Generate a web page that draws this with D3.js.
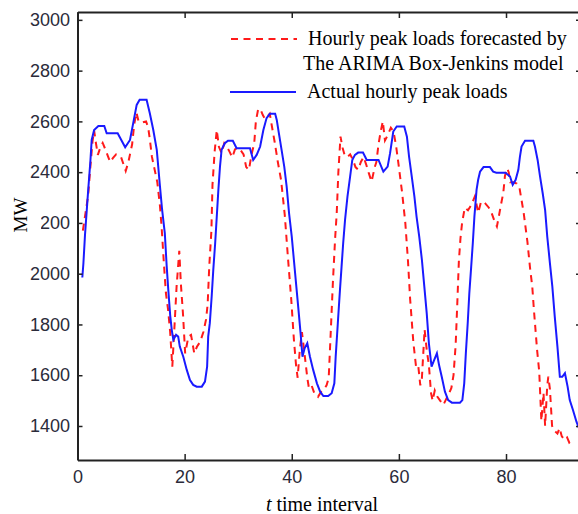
<!DOCTYPE html>
<html>
<head>
<meta charset="utf-8">
<script src="https://cdn.jsdelivr.net/npm/d3@7"></script>
<style>
  html, body { margin: 0; padding: 0; background: #fff; }
  svg { display: block; }
</style>
</head>
<body>
<svg id="chart" width="578" height="514"></svg>
<script>
// ---------- data ----------
const xTicks = [0, 20, 40, 60, 80];
const yTicks = [1400, 1600, 1800, 2000, 2200, 2400, 2600, 2800, 3000];

const legendLabels = [
  "Hourly peak loads forecasted by",
  "The ARIMA Box-Jenkins model",
  "Actual hourly peak loads"
];

// Actual hourly peak loads (blue)
const tActual = [0.9,1.1,1.4,2.0,2.4,2.65,3.1,3.9,5.0,5.45,7.5,8.9,9.8,10.4,11.05,11.6,12.9,13.5,14.15,14.8,15.4,15.8,16.3,16.65,16.95,17.3,17.6,17.9,18.4,18.8,19.1,19.75,20.4,21.0,21.6,22.25,23.2,23.8,24.2,24.4,24.7,25.05,25.35,25.7,26.0,26.3,26.6,26.9,27.5,28.1,29.0,29.7,32.2,32.8,33.45,34.1,34.7,35.3,35.9,36.9,37.2,37.6,38.1,38.6,39.05,39.5,40.0,40.4,40.8,41.2,41.65,42.0,42.4,42.9,43.4,44.0,44.7,45.3,45.9,46.8,47.45,47.95,48.2,48.6,49.0,49.3,49.6,49.95,50.4,50.9,51.3,51.8,52.4,53.3,54.0,56.2,57.1,57.9,58.35,58.95,59.6,61.0,61.5,61.9,62.4,62.9,63.3,63.8,64.3,64.75,65.2,65.6,66.1,66.6,67.1,67.5,68.0,68.6,69.2,69.9,71.4,71.85,72.2,72.5,72.85,73.15,73.5,73.8,74.1,74.5,74.8,75.15,75.8,77.0,77.6,78.2,79.9,80.75,81.25,81.8,82.3,82.6,82.9,83.55,85.1,85.4,85.9,86.35,86.85,87.3,87.7,88.2,88.65,89.1,89.6,90.05,90.5,91.0,91.5,91.9,92.5,93.15,93.6];
const actual = [1985,2040,2153,2330,2442,2527,2566,2582,2582,2553,2553,2498,2527,2593,2665,2685,2685,2632,2566,2488,2343,2251,2160,2030,1936,1837,1778,1739,1759,1752,1713,1673,1621,1581,1562,1555,1555,1575,1634,1752,1805,1910,2015,2120,2225,2330,2422,2488,2514,2524,2524,2494,2494,2448,2468,2501,2566,2613,2630,2630,2606,2553,2488,2422,2343,2238,2146,2054,1962,1870,1765,1673,1706,1726,1673,1621,1568,1535,1518,1518,1529,1568,1673,1805,1936,2028,2120,2212,2304,2383,2448,2468,2477,2477,2448,2448,2402,2422,2474,2560,2580,2580,2540,2461,2383,2304,2225,2146,2054,1949,1844,1726,1634,1660,1686,1640,1594,1535,1502,1492,1492,1502,1568,1686,1805,1923,2028,2120,2225,2330,2370,2402,2420,2420,2402,2398,2398,2383,2350,2370,2409,2461,2501,2524,2524,2501,2448,2383,2317,2251,2146,2041,1949,1831,1713,1594,1594,1608,1555,1502,1463,1417,1392];

// Forecast by ARIMA Box-Jenkins model (red dashed)
const tForecast = [1.0,1.5,2.0,2.4,2.8,3.1,3.4,3.8,4.3,4.7,5.2,5.8,6.1,6.6,7.2,7.7,8.1,8.6,9.0,9.5,9.8,10.2,10.6,11.0,11.4,12.0,12.8,13.2,13.5,13.9,14.3,14.9,15.4,15.7,16.1,16.5,16.9,17.3,17.7,18.0,18.5,19.0,19.3,19.7,20.1,20.7,21.2,21.8,22.3,22.9,23.5,24.0,24.3,24.6,25.0,25.2,25.6,26.0,26.4,26.9,27.4,27.9,28.4,28.9,29.4,30.0,30.5,31.0,31.5,32.0,32.5,33.0,33.3,33.7,34.1,34.6,35.0,35.5,35.9,36.3,36.8,37.4,38.0,38.7,39.3,39.9,40.4,40.8,41.1,41.5,41.9,42.3,42.9,43.2,43.7,44.2,44.9,45.5,46.0,46.5,46.9,47.3,47.7,48.1,48.4,48.7,49.1,49.5,49.9,50.4,50.9,51.4,51.9,52.4,52.9,53.4,53.9,54.4,54.9,55.5,55.8,56.2,56.6,57.0,57.4,57.9,58.5,59.0,59.5,60.0,60.6,61.2,61.7,62.1,62.7,63.2,63.6,64.0,64.3,64.8,65.2,65.6,66.0,66.3,66.7,67.2,67.7,68.3,68.8,69.3,69.8,70.2,70.6,70.9,71.2,71.5,71.8,72.3,72.9,73.5,74.2,74.8,75.3,75.7,76.2,76.8,77.3,77.8,78.3,78.7,79.0,79.5,79.8,80.2,80.5,80.8,81.4,82.0,82.5,82.9,83.3,83.6,84.0,84.5,84.9,85.2,85.8,86.2,86.6,87.0,87.3,87.7,87.9,88.2,88.6,89.1,89.6,90.0,90.4,90.9,91.4,91.8,92.3];
const forecast = [2170,2240,2310,2420,2520,2565,2520,2468,2500,2515,2490,2456,2440,2455,2470,2465,2461,2430,2405,2440,2470,2510,2590,2635,2600,2595,2600,2575,2530,2460,2420,2360,2266,2185,2050,1924,1860,1770,1634,1750,1950,2090,1960,1840,1686,1752,1759,1686,1712,1732,1770,1820,1880,2030,2170,2350,2480,2566,2500,2475,2514,2500,2480,2458,2490,2494,2485,2470,2420,2409,2470,2515,2600,2645,2650,2625,2610,2620,2630,2580,2520,2440,2370,2230,2060,1900,1740,1640,1590,1700,1770,1700,1590,1550,1560,1530,1515,1535,1545,1560,1590,1780,1975,2140,2240,2400,2540,2495,2465,2460,2470,2450,2420,2410,2440,2460,2430,2395,2363,2420,2440,2510,2560,2600,2525,2545,2575,2560,2500,2420,2320,2200,2050,1900,1730,1634,1640,1560,1590,1780,1700,1640,1530,1500,1540,1515,1500,1483,1505,1525,1550,1600,1720,1880,2050,2140,2200,2260,2250,2270,2305,2240,2280,2285,2275,2260,2240,2210,2186,2230,2265,2320,2385,2415,2400,2360,2360,2355,2340,2290,2240,2190,2125,2020,1950,1860,1700,1615,1420,1530,1400,1560,1594,1545,1400,1380,1370,1392,1360,1345,1355,1335,1345];

// ---------- layout ----------
const svg = d3.select("#chart");
const plotL = 77.5, plotR = 581, plotT = 12, plotB = 460;

const x = d3.scaleLinear().domain([0, 94]).range([plotL, plotR]);
const y = d3.scaleLinear().domain([1266, 3031]).range([plotB, plotT]);

const blue = "#1a1aff";
const red = "#ff1a1a";
const axisColor = "#222";
const tickFont = "'Liberation Sans', Arial, sans-serif";
const serif = "'Liberation Serif', 'Times New Roman', serif";
const dash = "7,5.5";

// clip
svg.append("defs").append("clipPath").attr("id", "plotClip")
  .append("rect").attr("x", plotL).attr("y", plotT)
  .attr("width", plotR - plotL).attr("height", plotB - plotT);

// ---------- lines ----------
const actualPts = tActual.map((t, i) => [t, actual[i]]);
const forecastPts = tForecast.map((t, i) => [t, forecast[i]]);
const line = d3.line().x(d => x(d[0])).y(d => y(d[1]));

const plot = svg.append("g").attr("clip-path", "url(#plotClip)");
plot.append("path").datum(forecastPts)
  .attr("d", line).attr("fill", "none")
  .attr("stroke", red).attr("stroke-width", 2)
  .attr("stroke-dasharray", dash);
plot.append("path").datum(actualPts)
  .attr("d", line).attr("fill", "none")
  .attr("stroke", blue).attr("stroke-width", 2);

// ---------- axes ----------
const fmt = d3.format("d");
function styleAxis(g, showText) {
  g.select(".domain").attr("stroke", axisColor).attr("stroke-width", 2);
  g.selectAll(".tick line").attr("stroke", axisColor).attr("stroke-width", 1.5);
  g.selectAll(".tick text")
    .attr("fill", "#2b2b3a")
    .style("font-family", tickFont)
    .style("font-size", "18px");
  if (!showText) g.selectAll(".tick text").remove();
}

svg.append("g").attr("transform", `translate(0,${plotB})`)
  .call(d3.axisBottom(x).tickValues(xTicks).tickFormat(fmt).tickSizeInner(-6).tickSizeOuter(0).tickPadding(10))
  .call(g => styleAxis(g, true));

svg.append("g").attr("transform", `translate(0,${plotT})`)
  .call(d3.axisTop(x).tickValues(xTicks).tickSizeInner(-6).tickSizeOuter(0))
  .call(g => styleAxis(g, false));

svg.append("g").attr("transform", `translate(${plotL},0)`)
  .call(d3.axisLeft(y).tickValues(yTicks).tickFormat(fmt).tickSizeInner(-5).tickSizeOuter(0).tickPadding(7.5))
  .call(g => styleAxis(g, true));

svg.append("g").attr("transform", `translate(${plotR},0)`)
  .call(d3.axisRight(y).tickValues(yTicks).tickSizeInner(-5).tickSizeOuter(0))
  .call(g => styleAxis(g, false));

// ---------- axis titles ----------
// the MW title sits on a white box that hides part of a tick label, as in the reference
svg.append("rect").attr("x", 0).attr("y", 192).attr("width", 41).attr("height", 44).attr("fill", "#fff");
svg.append("text")
  .attr("transform", "translate(27,215) rotate(-90)")
  .attr("text-anchor", "middle")
  .style("font-family", serif).style("font-size", "19px").attr("fill", "#000")
  .text("MW");

const xt = svg.append("text")
  .attr("x", 322).attr("y", 511).attr("text-anchor", "middle")
  .style("font-family", serif).style("font-size", "20px").attr("fill", "#000");
xt.append("tspan").style("font-style", "italic").text("t");
xt.append("tspan").text(" time interval");

// ---------- legend ----------
const lg = svg.append("g");
lg.append("line").attr("x1", 231).attr("x2", 297).attr("y1", 39).attr("y2", 39)
  .attr("stroke", red).attr("stroke-width", 2).attr("stroke-dasharray", dash);
lg.append("line").attr("x1", 230).attr("x2", 296).attr("y1", 92).attr("y2", 92)
  .attr("stroke", blue).attr("stroke-width", 2);
const legendPos = [[308, 45], [303, 70], [307, 98]];
legendLabels.forEach((s, i) => {
  lg.append("text").attr("x", legendPos[i][0]).attr("y", legendPos[i][1])
    .style("font-family", serif).style("font-size", "20px").attr("fill", "#000")
    .text(s);
});
</script>
</body>
</html>
